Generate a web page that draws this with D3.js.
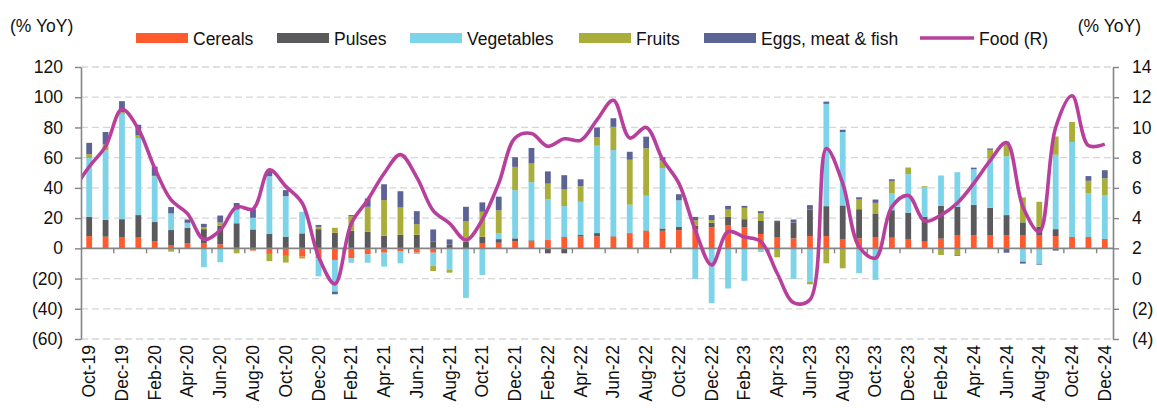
<!DOCTYPE html>
<html>
<head>
<meta charset="utf-8">
<script src="https://cdn.jsdelivr.net/npm/d3@7"></script>
<style>
  html, body { margin: 0; padding: 0; background: #fff; }
  svg { display: block; font-family: "Liberation Sans", Arial, sans-serif; }
</style>
</head>
<body>
<div id="chart"></div>
<script>
// Month categories, Oct-19 .. Dec-24
const months = [
  "Oct-19", "Nov-19", "Dec-19",
  "Jan-20", "Feb-20", "Mar-20", "Apr-20", "May-20", "Jun-20", "Jul-20", "Aug-20", "Sep-20", "Oct-20", "Nov-20", "Dec-20",
  "Jan-21", "Feb-21", "Mar-21", "Apr-21", "May-21", "Jun-21", "Jul-21", "Aug-21", "Sep-21", "Oct-21", "Nov-21", "Dec-21",
  "Jan-22", "Feb-22", "Mar-22", "Apr-22", "May-22", "Jun-22", "Jul-22", "Aug-22", "Sep-22", "Oct-22", "Nov-22", "Dec-22",
  "Jan-23", "Feb-23", "Mar-23", "Apr-23", "May-23", "Jun-23", "Jul-23", "Aug-23", "Sep-23", "Oct-23", "Nov-23", "Dec-23",
  "Jan-24", "Feb-24", "Mar-24", "Apr-24", "May-24", "Jun-24", "Jul-24", "Aug-24", "Sep-24", "Oct-24", "Nov-24", "Dec-24"
];

// Contributions, % YoY (left axis)
const cereals = [
  8.1, 7.7, 7.5,
  7.5, 4.8, 2.2, 3.5, 3.5, 2.6, 0.3, -1.5, -3.7, -5.0, -5.5, -6.5,
  -7.7, -6.6, -4.0, -2.9, -2.2, -2.9, -2.9, -0.7, -0.5, 3.1, 3.7, 4.8,
  4.8, 5.5, 7.5, 7.9, 7.9, 7.7, 9.9, 11.6, 11.6, 12.0, 12.7, 13.8,
  15.4, 13.8, 9.5, 7.5, 6.6, 8.1, 8.1, 6.2, 6.6, 7.5, 7.0, 6.2,
  4.4, 6.4, 8.8, 8.8, 8.8, 8.8, 8.4, 8.4, 8.1, 7.5, 7.5, 6.2
];
const pulses = [
  12.8, 11.2, 11.8,
  14.5, 12.6, 9.9, 10.1, 9.2, 12.3, 16.3, 12.5, 9.7, 7.7, 9.9, 12.7,
  10.3, 11.6, 11.0, 8.4, 9.0, 9.0, 4.4, 2.4, 4.4, 4.6, 2.4, 1.8,
  0.5, -3.3, -3.3, 0.9, 2.2, 0.3, 0.3, 0.3, 1.5, 2.2, 2.2, 3.1,
  5.5, 5.5, 8.6, 9.9, 10.5, 17.6, 19.8, 22.2, 19.3, 15.6, 18.2, 17.4,
  16.5, 21.8, 18.7, 20.0, 18.0, 13.2, 8.8, 5.9, 4.6, 0, 0, 0
];
const vegetables = [
  38.9, 45.9, 69.7,
  51.0, 30.3, 11.0, 3.3, -12.5, -9.2, 9.0, 7.7, 38.0, 26.8, 14.3, -12.0,
  -20.9, -2.9, -5.5, -9.2, -7.7, -0.9, -8.6, -13.6, -32.3, -17.6, 3.7, 31.9,
  38.5, 27.0, 20.4, 22.0, 57.8, 57.0, 18.7, 22.9, 40.0, 17.6, -20.2, -36.3,
  -26.6, -21.5, -2.4, 0, -20.2, -22.0, 67.7, 48.6, -16.5, -20.9, 11.0, 25.5,
  19.3, 20.0, 22.9, 23.5, 32.5, 38.9, -8.8, -10.3, 49.2, 62.9, 28.8, 29.0
];
const fruits = [
  2.5, 4.0, 1.1,
  1.7, 0.3, -2.2, 0, 1.3, 2.2, -3.3, 0, -4.8, -4.4, -1.2, 1.5,
  3.3, 9.7, 16.5, 23.5, 18.0, 7.0, -3.5, -1.8, 13.4, 16.5, 15.4, 15.4,
  12.3, 10.3, 11.0, 10.3, 5.7, 15.4, 29.7, 31.4, 5.0, 0, 3.7, 1.8,
  4.8, 7.5, 5.0, -5.9, 0, -1.8, -9.9, -13.2, 6.4, 7.0, 8.4, 4.4,
  0.9, -4.4, -4.4, 0, 5.9, 9.7, 16.5, 16.5, 12.1, 13.2, 8.4, 11.2
];
const eggsMeatFish = [
  7.5, 8.2, 7.3,
  7.1, 6.1, 4.2, 2.2, 2.2, 4.6, 4.4, 5.7, 4.0, 4.0, 0, 1.3,
  -1.8, 0.7, 5.5, 10.5, 10.8, 8.6, 8.1, 3.5, 9.7, 6.2, 9.0, 6.4,
  10.3, 8.1, 9.5, 4.6, 6.4, 5.7, 5.3, 7.7, 2.2, 4.0, 2.2, 3.3,
  2.4, 1.3, 1.5, 0.9, 2.0, 2.9, 1.5, 1.5, 1.5, 2.2, 1.1, 0,
  0, 0, -0.5, 1.1, 0.9, -2.9, -1.3, -0.5, -1.5, 0, 3.1, 5.3
];

// Food inflation, % YoY (right axis); the Sep-19 point only shapes the clipped line start
const foodPrev = { month: "Sep-19", value: 5.8 };
const food = [
  7.4, 8.75, 11.2,
  9.9, 7.3, 5.2, 4.3, 2.6, 3.2, 4.75, 4.6, 7.2, 6.1, 5.0, 1.45,
  -0.35, 3.65, 5.2, 6.95, 8.2, 6.7, 4.5, 3.65, 2.55, 3.9, 6.3, 9.3,
  9.6, 8.75, 9.25, 9.15, 10.5, 11.8, 9.3, 10.0, 7.9, 6.3, 3.2, 0.9,
  3.1, 2.75, 2.45, 0.35, -1.6, -1.4, 8.6, 6.3, 2.1, 1.35, 4.75, 5.5,
  3.8, 4.2, 5.0, 6.3, 7.8, 9.0, 4.75, 3.1, 10.0, 12.1, 8.8, 8.9
];

const leftTicks = [-60, -40, -20, 0, 20, 40, 60, 80, 100, 120];
const rightTicks = [-4, -2, 0, 2, 4, 6, 8, 10, 12, 14];
const seriesNames = ["Cereals", "Pulses", "Vegetables", "Fruits", "Eggs, meat & fish"];
const lineName = "Food (R)";
const axisTitle = "(% YoY)";

const colors = ["#ff5b2f", "#5a5a5c", "#7dd3e8", "#a9ad3a", "#5c6395"];
const foodColor = "#b8409c";

const width = 1157, height = 408;
const plot = { left: 81, right: 1113, top: 67, bottom: 339 };

const svg = d3.select("#chart").append("svg")
  .attr("width", width)
  .attr("height", height);

const x = d3.scaleBand()
  .domain(months)
  .range([plot.left, plot.right])
  .padding(0);
const step = x.step();
const barW = 5.8;

const yL = d3.scaleLinear().domain([-60, 120]).range([plot.bottom, plot.top]);
const yR = d3.scaleLinear().domain([-4, 14]).range([plot.bottom, plot.top]);

const fmt = v => v < 0 ? `(${-v})` : `${v}`;
const fontSize = "17.5px";

// gridlines
svg.append("g")
  .selectAll("line")
  .data(leftTicks.filter(v => v !== 0))
  .join("line")
  .attr("x1", plot.left)
  .attr("x2", plot.right)
  .attr("y1", d => yL(d))
  .attr("y2", d => yL(d))
  .attr("stroke", "#d6d6d6")
  .attr("stroke-width", 1.3)
  .attr("stroke-dasharray", "7,4");

// stacked bars (positives up, negatives down)
const table = months.map((m, i) => ({
  month: m,
  s0: cereals[i], s1: pulses[i], s2: vegetables[i], s3: fruits[i], s4: eggsMeatFish[i]
}));
const stack = d3.stack()
  .keys(["s0", "s1", "s2", "s3", "s4"])
  .offset(d3.stackOffsetDiverging);
const layers = stack(table);

svg.append("g")
  .selectAll("g")
  .data(layers)
  .join("g")
  .attr("fill", (d, i) => colors[i])
  .selectAll("rect")
  .data(d => d)
  .join("rect")
  .attr("x", d => x(d.data.month) + (step - barW) / 2)
  .attr("width", barW)
  .attr("y", d => yL(Math.max(d[0], d[1])))
  .attr("height", d => Math.abs(yL(d[0]) - yL(d[1])));

// zero line with category tick marks
const zeroY = yL(0);
svg.append("line")
  .attr("x1", plot.left).attr("x2", plot.right)
  .attr("y1", zeroY).attr("y2", zeroY)
  .attr("stroke", "#858585")
  .attr("stroke-width", 1.6);

svg.append("g")
  .selectAll("line")
  .data(months.filter((m, i) => i > 0 && i % 2 === 0))
  .join("line")
  .attr("x1", d => x(d)).attr("x2", d => x(d))
  .attr("y1", zeroY).attr("y2", zeroY + 5)
  .attr("stroke", "#858585")
  .attr("stroke-width", 1.4);

// food line, clipped to the plot area
svg.append("clipPath")
  .attr("id", "plotClip")
  .append("rect")
  .attr("x", plot.left).attr("y", 0)
  .attr("width", plot.right - plot.left).attr("height", height);

const linePts = [{ cx: x(months[0]) + step / 2 - step, v: foodPrev.value }]
  .concat(months.map((m, i) => ({ cx: x(m) + step / 2, v: food[i] })));

const line = d3.line()
  .x(d => d.cx)
  .y(d => yR(d.v))
  .curve(d3.curveCatmullRom.alpha(0.5));

svg.append("path")
  .datum(linePts)
  .attr("clip-path", "url(#plotClip)")
  .attr("fill", "none")
  .attr("stroke", foodColor)
  .attr("stroke-width", 3.6)
  .attr("stroke-linejoin", "round")
  .attr("d", line);

// left axis
const axL = svg.append("g")
  .attr("transform", `translate(${plot.left},0)`)
  .call(d3.axisLeft(yL).tickValues(leftTicks).tickFormat(fmt).tickSize(6).tickPadding(12).tickSizeOuter(0));
axL.select(".domain").attr("stroke", "#858585").attr("stroke-width", 1.6);
axL.selectAll(".tick line").attr("stroke", "#858585").attr("stroke-width", 1.4);
axL.selectAll("text").attr("font-size", fontSize).attr("fill", "#111").attr("font-family", "Liberation Sans, Arial, sans-serif");

// right axis
const axR = svg.append("g")
  .attr("transform", `translate(${plot.right},0)`)
  .call(d3.axisRight(yR).tickValues(rightTicks).tickFormat(fmt).tickSize(6).tickPadding(13).tickSizeOuter(0));
axR.select(".domain").attr("stroke", "#858585").attr("stroke-width", 1.6);
axR.selectAll(".tick line").attr("stroke", "#858585").attr("stroke-width", 1.4);
axR.selectAll("text").attr("font-size", fontSize).attr("fill", "#111").attr("font-family", "Liberation Sans, Arial, sans-serif");

// category labels (every other month), rotated
svg.append("g")
  .selectAll("text")
  .data(months.filter((m, i) => i % 2 === 0))
  .join("text")
  .attr("transform", d => `translate(${x(d) + step / 2 + 6},${plot.bottom + 6}) rotate(-90)`)
  .attr("text-anchor", "end")
  .attr("font-size", fontSize)
  .attr("fill", "#111")
  .text(d => d);

// axis titles
svg.append("text")
  .attr("x", 10).attr("y", 32)
  .attr("font-size", fontSize).attr("fill", "#111")
  .text(axisTitle);
svg.append("text")
  .attr("x", 1141).attr("y", 32)
  .attr("text-anchor", "end")
  .attr("font-size", fontSize).attr("fill", "#111")
  .text(axisTitle);

// legend
const legendX = [136, 277, 410, 579, 704, 920];
const legendY = 38;
const legend = svg.append("g");
seriesNames.forEach((name, i) => {
  legend.append("rect")
    .attr("x", legendX[i]).attr("y", legendY - 5)
    .attr("width", 52).attr("height", 10)
    .attr("fill", colors[i]);
  legend.append("text")
    .attr("x", legendX[i] + 57).attr("y", legendY + 7)
    .attr("font-size", fontSize).attr("fill", "#111")
    .text(name);
});
legend.append("line")
  .attr("x1", legendX[5]).attr("x2", legendX[5] + 54)
  .attr("y1", legendY).attr("y2", legendY)
  .attr("stroke", foodColor).attr("stroke-width", 3.6);
legend.append("text")
  .attr("x", legendX[5] + 59).attr("y", legendY + 7)
  .attr("font-size", fontSize).attr("fill", "#111")
  .text(lineName);
</script>
</body>
</html>
